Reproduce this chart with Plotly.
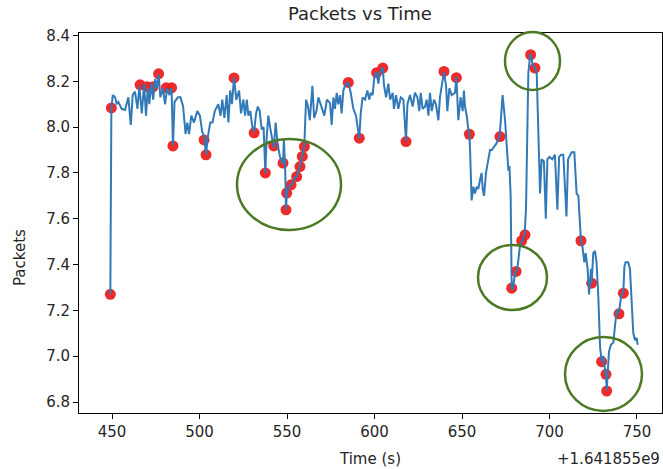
import plotly.graph_objects as go

# ---- data (time offset from 1.641855e9 s, packets) ----
line_t = [449.0, 449.6, 450.4, 451.7, 452.7, 453.6, 455.5, 457.4, 459.3, 460.7,
          461.8, 463.1, 464.5, 465.6, 467.0, 468.3, 469.4, 470.4, 471.3, 472.3,
          473.5, 474.6, 475.6, 476.6, 477.6, 479.0, 480.3, 481.5, 482.8, 484.0,
          484.8, 485.7, 487.6, 489.1, 490.6, 492.0, 493.0, 494.0, 495.3, 496.8,
          498.7, 500.2, 501.5, 502.6, 503.7, 504.6, 506.1, 507.4, 508.7, 510.7,
          512.0, 513.0, 514.2, 515.5, 516.5, 517.5, 518.5, 519.7, 521.0, 522.6,
          523.7, 525.0, 526.0, 527.0, 527.9, 529.0, 530.2, 531.2, 532.3, 533.3,
          534.4, 535.5, 536.6, 537.6, 538.3, 539.3, 540.3, 541.6, 542.4, 543.5,
          544.5, 546.0, 547.7, 548.2, 549.0, 549.4, 549.9, 551.0, 552.5, 554.6,
          555.6, 557.4, 558.7, 559.9, 560.4, 560.9, 562.0, 563.0, 564.5, 565.5,
          566.8, 567.9, 569.2, 570.0, 571.3, 572.8, 574.6, 575.5, 576.5, 577.4,
          578.4, 579.3, 580.3, 581.2, 582.2, 583.1, 585.0, 586.4, 587.9, 589.4,
          591.3, 592.1, 593.2, 594.6, 595.9, 597.0, 597.8, 598.9, 599.9, 601.2,
          602.2, 603.1, 604.7, 605.4, 606.6, 607.9, 608.9, 610.4, 611.1, 612.3,
          613.6, 615.0, 616.5, 618.0, 618.8, 620.3, 621.8, 623.1, 624.5, 625.6,
          626.4, 627.5, 628.9, 629.8, 630.8, 631.7, 632.7, 634.0, 635.1, 636.5,
          637.4, 638.6, 639.7, 640.9, 641.6, 642.8, 644.1, 646.0, 646.8, 647.9,
          649.2, 650.4, 651.1, 651.7, 652.7, 653.6, 654.2, 654.6, 655.1, 655.5,
          656.5, 657.4, 658.4, 659.3, 660.3, 661.2, 661.8, 662.6, 663.7, 665.0,
          666.0, 667.0, 667.9, 669.8, 671.5, 672.1, 673.2, 674.6, 675.5, 676.1,
          676.5, 677.1, 677.8, 678.4, 678.9, 680.3, 680.9, 681.6, 683.1, 684.1,
          685.8, 686.6, 687.3, 687.9, 688.9, 689.2, 690.4, 691.7, 692.7, 693.6,
          694.6, 695.5, 696.8, 697.9, 698.8, 700.0, 701.6, 703.1, 704.5, 705.5,
          706.6, 707.9, 709.7, 710.6, 711.7, 712.7, 714.2, 715.0, 715.5, 716.5,
          716.9, 717.4, 718.0, 718.8, 719.9, 720.7, 721.8, 722.6, 723.7, 724.1,
          725.0, 726.0, 726.9, 727.9, 728.9, 729.8, 730.8, 731.3, 732.3, 732.7,
          733.2, 734.0, 735.1, 736.5, 737.4, 738.4, 739.7, 740.9, 742.2, 742.8,
          743.5, 745.0, 746.0, 746.9, 747.9, 748.9, 749.8, 750.4]
line_v = [7.27, 8.08, 8.14, 8.13, 8.10, 8.11, 8.08, 8.075, 8.13, 8.01,
          8.14, 8.155, 8.08, 8.18, 8.06, 8.19, 8.05, 8.17, 8.10, 8.19,
          8.12, 8.21, 8.17, 8.23, 8.13, 8.17, 8.10, 8.17, 8.14, 8.17,
          7.92, 8.11, 8.13, 8.13, 8.09, 7.97, 8.02, 7.97, 8.05, 8.02,
          8.07, 8.05, 7.98, 7.96, 7.88, 7.95, 8.02, 8.02, 8.07, 8.10,
          8.05, 8.12, 8.04, 8.14, 8.02, 8.16, 8.10, 8.215, 8.12, 8.16,
          8.06, 8.12, 8.05, 8.12, 8.05, 8.07, 8.00, 7.98, 8.06, 8.09,
          8.07, 7.99, 8.00, 7.80, 7.95, 8.05, 8.00, 7.95, 7.91, 8.02,
          7.93, 7.87, 7.84, 7.95, 7.80, 7.64, 7.71, 7.74, 7.75, 7.78,
          7.785, 7.83, 7.87, 7.92, 8.03, 8.12, 8.09, 8.03, 8.18, 8.04,
          8.07, 8.13, 8.10, 8.08, 8.05, 8.12, 8.105, 8.01, 8.13, 8.08,
          8.15, 8.10, 8.14, 8.06, 8.16, 8.18, 8.195, 8.15, 8.08, 8.05,
          7.95, 8.06, 8.13, 8.12, 8.16, 8.12, 8.15, 8.14, 8.22, 8.24,
          8.19, 8.24, 8.26, 8.185, 8.13, 8.19, 8.12, 8.15, 8.08, 8.14,
          8.08, 8.13, 8.12, 7.94, 8.10, 8.14, 8.09, 8.15, 8.13, 8.07,
          8.15, 8.08, 8.09, 8.12, 8.05, 8.15, 8.07, 8.12, 8.10, 8.03,
          8.13, 8.19, 8.24, 8.18, 8.07, 8.17, 8.14, 8.15, 8.22, 8.03,
          8.13, 8.07, 8.16, 8.09, 8.05, 7.99, 7.97, 7.90, 7.76, 7.68,
          7.74, 7.71, 7.74, 7.73, 7.77, 7.80, 7.73, 7.70, 7.80, 7.86,
          7.90, 7.90, 7.91, 7.93, 7.96, 8.03, 8.14, 8.03, 7.90, 7.84,
          7.81, 7.83, 7.70, 7.30, 7.29, 7.36, 7.37, 7.38, 7.48, 7.50,
          7.53, 7.65, 7.94, 8.235, 8.31, 8.32, 8.27, 8.26, 8.235, 8.00,
          7.71, 7.86, 7.85, 7.60, 7.86, 7.87, 7.86, 7.88, 7.64, 7.87,
          7.88, 7.88, 7.61, 7.86, 7.88, 7.89, 7.89, 7.75, 7.71, 7.70,
          7.64, 7.60, 7.50, 7.48, 7.41, 7.45, 7.38, 7.27, 7.38, 7.32,
          7.45, 7.46, 7.41, 7.26, 7.04, 6.98, 7.00, 6.96, 6.92, 6.85,
          6.94, 7.02, 7.05, 7.06, 7.13, 7.20, 7.19, 7.26, 7.28, 7.39,
          7.41, 7.41, 7.38, 7.22, 7.10, 7.07, 7.08, 7.05]

anom_t = [449.0, 449.6, 466.0, 470.0, 473.4, 476.6, 481.0, 484.0, 484.8, 502.6,
          503.7, 519.7, 531.2, 537.6, 542.4, 547.7, 549.4, 549.8, 552.3, 555.5,
          557.4, 558.7, 559.9, 585.0, 591.3, 601.2, 604.7, 618.0, 639.7, 646.8,
          654.2, 671.7, 678.4, 680.9, 684.1, 686.0, 689.2, 691.7, 718.0, 724.1,
          729.8, 732.3, 732.7, 739.7, 742.2]
anom_v = [7.27, 8.084, 8.185, 8.176, 8.176, 8.233, 8.172, 8.172, 7.918, 7.944,
          7.879, 8.215, 7.975, 7.80, 7.918, 7.843, 7.639, 7.712, 7.748, 7.784,
          7.828, 7.872, 7.915, 8.195, 7.952, 8.238, 8.258, 7.937, 8.243, 8.216,
          7.969, 7.959, 7.297, 7.37, 7.504, 7.53, 8.316, 8.258, 7.504, 7.319,
          6.976, 6.921, 6.848, 7.185, 7.275]

x_ticks = [450, 500, 550, 600, 650, 700, 750]
y_ticks = [6.8, 7.0, 7.2, 7.4, 7.6, 7.8, 8.0, 8.2, 8.4]

# ---- layout geometry (pixels) ----
W, H = 663, 469
L, R, T, B = 79, 1, 33, 56
PW, PH = W - L - R, H - T - B


def px(xp):
    return (xp - L) / PW


def py(yp):
    return (H - B - yp) / PH


FONT = "DejaVu Sans"
TXT = "#262626"

fig = go.Figure()
fig.add_trace(go.Scatter(x=anom_t, y=anom_v, mode="markers",
                         marker=dict(size=11, color="rgba(236,32,32,0.95)", line=dict(width=0)),
                         showlegend=False, hoverinfo="skip"))
fig.add_trace(go.Scatter(x=line_t, y=line_v, mode="lines",
                         line=dict(color="#3279b8", width=2),
                         showlegend=False))

axis_common = dict(showline=True, linecolor="black", linewidth=1, mirror=True,
                   ticks="outside", ticklen=5, tickwidth=1, tickcolor="black",
                   showgrid=False, zeroline=False, automargin=False,
                   tickfont=dict(family=FONT, size=15, color=TXT))
fig.update_xaxes(range=[431.1, 764.3], tickvals=x_ticks,
                 ticktext=[str(v) for v in x_ticks], **axis_common)
fig.update_yaxes(range=[6.752, 8.411], tickvals=y_ticks,
                 ticktext=[f"{v:.1f}" for v in y_ticks], **axis_common)

circles = [(237, 139, 341, 230), (505, 32, 560, 90), (478, 245, 547, 310), (565, 337, 642, 411)]
shapes = []
for x0, y0, x1, y1 in circles:
    shapes.append(dict(type="circle", xref="paper", yref="paper",
                       x0=px(x0), x1=px(x1), y0=py(y1), y1=py(y0),
                       line=dict(color="#4c7a24", width=2.5)))

annotations = [
    dict(text="Packets vs Time", x=px(360), y=py(13), xref="paper", yref="paper",
         showarrow=False, xanchor="center", yanchor="middle",
         font=dict(family=FONT, size=18, color=TXT)),
    dict(text="Time (s)", x=px(370), y=py(459), xref="paper", yref="paper",
         showarrow=False, xanchor="center", yanchor="middle",
         font=dict(family=FONT, size=15, color=TXT)),
    dict(text="+1.641855e9", x=px(662), y=py(459), xref="paper", yref="paper",
         showarrow=False, xanchor="right", yanchor="middle",
         font=dict(family=FONT, size=15, color=TXT)),
    dict(text="Packets", x=px(20), y=py(258), xref="paper", yref="paper",
         showarrow=False, xanchor="center", yanchor="middle", textangle=-90,
         font=dict(family=FONT, size=15, color=TXT)),
]

fig.update_layout(width=W, height=H,
                  margin=dict(l=L, r=R, t=T, b=B, autoexpand=False),
                  paper_bgcolor="white", plot_bgcolor="white",
                  shapes=shapes, annotations=annotations, showlegend=False)

fig.write_html("out.html", config={"displayModeBar": False},
               post_script="document.body.style.margin='0px';document.body.style.overflow='hidden';")
